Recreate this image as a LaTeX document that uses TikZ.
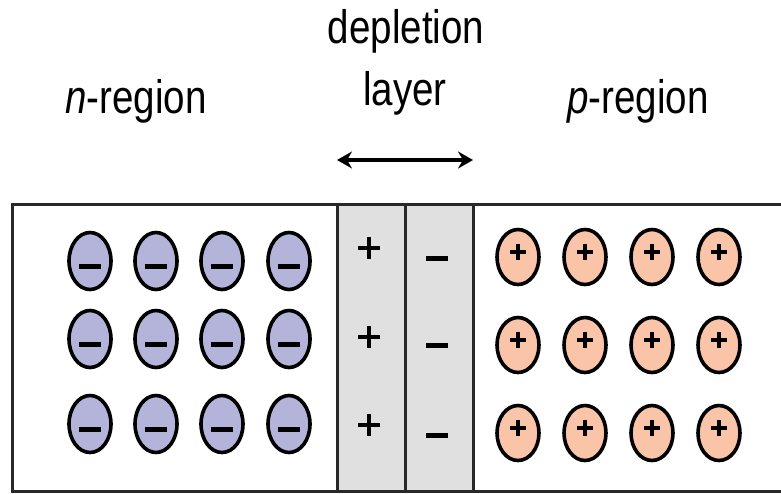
\documentclass[tikz,border=0pt]{standalone}
\usepackage{fontspec}
\setmainfont{Liberation Sans}[FakeStretch=0.82]
\usetikzlibrary{arrows.meta,shapes.geometric}
\definecolor{nfill}{RGB}{180,180,218}
\definecolor{pfill}{RGB}{250,196,168}
\definecolor{dgray}{RGB}{224,224,224}
\definecolor{edge}{RGB}{40,40,40}
\tikzset{
  lbl/.style={font=\fontsize{47}{52}\selectfont, anchor=base, inner sep=0pt},
  nion/.style={ellipse, draw=black, line width=3.6pt, fill=nfill, minimum width=42pt, minimum height=57pt, inner sep=0pt},
  pion/.style={ellipse, draw=black, line width=3.6pt, fill=pfill, minimum width=42pt, minimum height=55pt, inner sep=0pt},
  bar/.style={line width=5pt},
  cross/.style={line width=3.6pt},
  wall/.style={draw=edge, line width=3pt},
}
\begin{document}
\begin{tikzpicture}[x=1pt,y=-1pt]
\useasboundingbox (0,0) rectangle (781,493);
% depletion fill
\fill[dgray] (337,204) rectangle (473,491);
% box
\coordinate (tr) at (782,204);
\coordinate (tl) at (12,204);
\coordinate (bl) at (12,491);
\coordinate (br) at (782,491);
\draw[wall] (tr) -- (tl) -- (bl) -- (br);
\coordinate (w1t) at (337,204); \coordinate (w1b) at (337,491);
\coordinate (w2t) at (405,204); \coordinate (w2b) at (405,491);
\coordinate (w3t) at (473,204); \coordinate (w3b) at (473,491);
\draw[wall] (w1t) -- (w1b);
\draw[wall] (w2t) -- (w2b);
\draw[wall] (w3t) -- (w3b);
% labels
\node[lbl] (nlab) at (136,113) {\textit{n}-region};
\node[lbl] (plab) at (638,113) {\textit{p}-region};
\node[lbl] (dlab1) at (406,43) {depletion};
\node[lbl] (dlab2) at (405,105) {layer};
% arrow
\coordinate (al) at (337,160);
\coordinate (ar) at (473,160);
\draw[line width=3.4pt, {Stealth[length=15pt,width=17pt,inset=5pt]}-{Stealth[length=15pt,width=17pt,inset=5pt]}] (al) -- (ar);
% n ions
\foreach \x [count=\i] in {90,156,222,289}{
  \foreach \y [count=\j] in {261,339,424}{
    \node[nion] (n\i\j) at (\x,\y) {};
    \draw[bar] ([xshift=-11pt,yshift=-5pt]n\i\j.center) -- ([xshift=11pt,yshift=-5pt]n\i\j.center);
  }
}
% p ions
\foreach \x [count=\i] in {518,585,652,719}{
  \foreach \y [count=\j] in {257,345,433}{
    \node[pion] (p\i\j) at (\x,\y) {};
    \draw[cross] ([xshift=-8pt,yshift=5pt]p\i\j.center) -- ([xshift=8pt,yshift=5pt]p\i\j.center);
    \draw[cross] ([yshift=-3pt]p\i\j.center) -- ([yshift=13pt]p\i\j.center);
  }
}
% depletion charges
\foreach \y [count=\j] in {248,337,425}{
  \coordinate (dp\j) at (369,\y);
  \draw[cross] ([xshift=-11pt]dp\j) -- ([xshift=11pt]dp\j);
  \draw[cross] ([yshift=-11pt]dp\j) -- ([yshift=11pt]dp\j);
}
\foreach \y [count=\j] in {258,345,435}{
  \coordinate (dm\j) at (437,\y);
  \draw[bar] ([xshift=-11pt]dm\j) -- ([xshift=11pt]dm\j);
}
\end{tikzpicture}
\end{document}
